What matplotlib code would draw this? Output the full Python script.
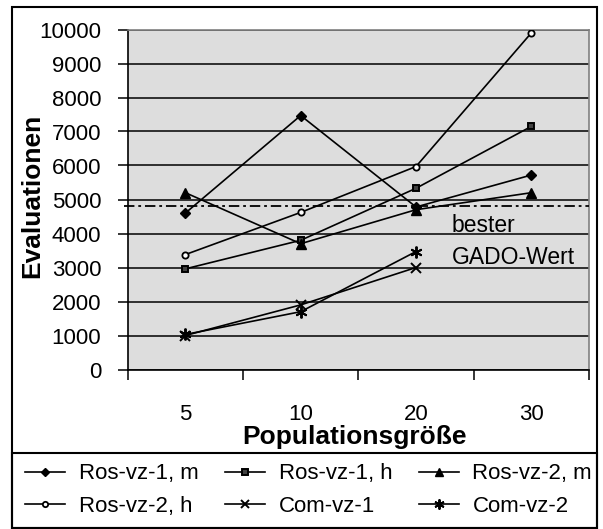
import numpy as np
import matplotlib
matplotlib.use("Agg")
import matplotlib.pyplot as plt
from matplotlib.patches import Rectangle

plt.rcParams['font.family'] = ['Liberation Sans', 'DejaVu Sans']
plt.rcParams['lines.scale_dashes'] = False

# ---- data ----
categories = ['5', '10', '20', '30']
ros_vz1_m = [4600, 7470, 4780, 5720]
ros_vz1_h = [2960, 3800, 5330, 7150]
ros_vz2_m = [5200, 3700, 4700, 5200]
ros_vz2_h = [3380, 4620, 5970, 9900]
com_vz1 = [1000, 1900, 3000, np.nan]
com_vz2 = [1030, 1700, 3470, np.nan]
series_labels = ['Ros-vz-1, m', 'Ros-vz-1, h', 'Ros-vz-2, m',
                 'Ros-vz-2, h', 'Com-vz-1', 'Com-vz-2']
gado_best = 4800
y_ticks = [0, 1000, 2000, 3000, 4000, 5000, 6000, 7000, 8000, 9000, 10000]

W, H = 603, 529
fig = plt.figure(figsize=(W / 100, H / 100), dpi=100)

ax_left, ax_right, ax_top, ax_bot = 127.7, 589.0, 29.5, 369.5
ax = fig.add_axes([ax_left / W, 1 - ax_bot / H,
                   (ax_right - ax_left) / W, (ax_bot - ax_top) / H])
ax.set_facecolor('#dddddd')

x = np.arange(len(categories))
styles = [
    dict(marker='D', ms=5, mfc='black', mec='black'),
    dict(marker='s', ms=5, mfc='#404040', mec='black', mew=1.4),
    dict(marker='^', ms=6.5, mfc='black', mec='black'),
    dict(marker='o', ms=4.5, mfc='white', mec='black', mew=1.3),
    dict(marker='x', ms=6.5, mfc='black', mec='black', mew=1.4),
    dict(marker=(6, 2, 0), ms=8.5, mfc='black', mec='black', mew=1.4),
]
data = [ros_vz1_m, ros_vz1_h, ros_vz2_m, ros_vz2_h, com_vz1, com_vz2]
handles = []
for vals, st, lab in zip(data, styles, series_labels):
    h, = ax.plot(x, vals, color='black', lw=1.2, label=lab, zorder=4, **st)
    handles.append(h)

# reference line
ax.axhline(gado_best, xmin=-0.008, xmax=1, color='black', lw=1.3,
           dashes=(7.5, 2.8, 2.0, 2.8), clip_on=False, zorder=3)
ax.text((451.7 - ax_left) / (ax_right - ax_left), (ax_bot - 231.7) / (ax_bot - ax_top),
        'bester', transform=ax.transAxes, fontsize=16.5, va='baseline', ha='left')
ax.text((451.7 - ax_left) / (ax_right - ax_left), (ax_bot - 264.0) / (ax_bot - ax_top),
        'GADO-Wert', transform=ax.transAxes, fontsize=16.5, va='baseline', ha='left')

ax.set_xlim(-0.5, len(categories) - 0.5)
ax.set_ylim(0, 10000)
ax.set_yticks(y_ticks)
ax.set_yticklabels([str(v) for v in y_ticks], fontsize=16)
ax.set_xticks(x)
ax.set_xticklabels(categories, fontsize=16)
ax.set_xticks(np.arange(-0.5, len(categories)), minor=True)
ax.tick_params(axis='x', which='major', length=0, pad=25)
ax.tick_params(axis='x', which='minor', length=7, width=1.1, direction='out')
ax.tick_params(axis='y', length=7, width=1.1, pad=12, direction='out')

ax.yaxis.grid(True, color='black', lw=1.1)
ax.set_axisbelow(True)
for s in ['left', 'bottom']:
    ax.spines[s].set_color('black')
    ax.spines[s].set_linewidth(1.2)
for s in ['top', 'right']:
    ax.spines[s].set_color('#808080')
    ax.spines[s].set_linewidth(1.2)

ax.set_ylabel('Evaluationen', fontsize=19, fontweight='bold', va='center')
ax.yaxis.set_label_coords((32.5 - ax_left) / (ax_right - ax_left), 0.51)
ax.set_xlabel('Populationsgröße', fontsize=19, fontweight='bold', va='baseline')
ax.xaxis.set_label_coords((354.7 - ax_left) / (ax_right - ax_left), (ax_bot - 444) / (ax_bot - ax_top))

# outer frame
fx0, fx1, fy0, fy1 = 11.7, 597.0, 7.3, 527.5
fig.patches.append(Rectangle((fx0 / W, 1 - fy1 / H), (fx1 - fx0) / W, (fy1 - fy0) / H,
                             transform=fig.transFigure, fill=False,
                             edgecolor='black', lw=1.5, zorder=0))
# legend box
ly0 = 453.0
fig.patches.append(Rectangle((fx0 / W, 1 - fy1 / H), (fx1 - fx0) / W, (fy1 - ly0) / H,
                             transform=fig.transFigure, fill=False,
                             edgecolor='black', lw=1.5, zorder=0))

# legend (row-wise order like the reference: reorder for column-major filling)
ncol = 3
order = [0, 3, 1, 4, 2, 5]
lx0, lx1 = 25.0, 592.0
leg = fig.legend(handles=[handles[i] for i in order], ncol=ncol, loc='center', mode='expand',
                 bbox_to_anchor=(lx0 / W, 1 - fy1 / H, (lx1 - lx0) / W, (fy1 - ly0) / H),
                 fontsize=16, handlelength=1.8, handletextpad=0.62,
                 labelspacing=0.53, borderpad=0.0, borderaxespad=0,
                 frameon=False, markerscale=0.85)

fig.savefig('out.png', dpi=100)
